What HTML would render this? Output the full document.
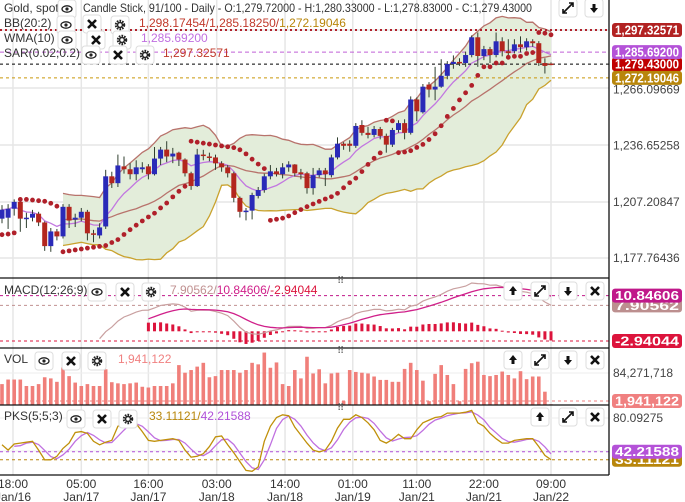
<!DOCTYPE html>
<html><head><meta charset="utf-8">
<style>
html,body{margin:0;padding:0;background:#fff;}
svg{display:block;font-family:"Liberation Sans",sans-serif;}
</style></head>
<body>
<svg id="chart" width="685" height="502" viewBox="0 0 685 502" xmlns="http://www.w3.org/2000/svg">
<defs>
<clipPath id="cMain"><rect x="0" y="0" width="609" height="278"/></clipPath>
<clipPath id="cMacd"><rect x="0" y="278" width="609" height="70"/></clipPath>
<clipPath id="cVol"><rect x="0" y="348" width="609" height="57"/></clipPath>
<clipPath id="cPks"><rect x="0" y="405" width="609" height="70"/></clipPath>
</defs>
<g id="grid"></g>
<g id="main" clip-path="url(#cMain)"></g>
<g id="macd" clip-path="url(#cMacd)"></g>
<g id="vol" clip-path="url(#cVol)"></g>
<g id="pks" clip-path="url(#cPks)"></g>
<g id="frame"></g>
<g id="axis"></g>
<g id="ui"></g>
</svg>
<script>
const opens=[1198.4,1198.9,1203.6,1207.2,1198.7,1198.9,1201.0,1196.4,1184.0,1191.7,1189.1,1204.6,1197.9,1198.9,1202.0,1190.7,1189.6,1194.3,1220.6,1217.0,1225.8,1224.3,1221.7,1224.3,1225.8,1221.7,1229.9,1234.6,1231.0,1233.0,1229.4,1222.2,1215.5,1232.0,1231.0,1230.5,1227.4,1225.3,1222.2,1209.3,1202.0,1202.6,1210.3,1213.4,1220.6,1223.2,1221.7,1225.3,1226.8,1222.7,1222.2,1214.4,1221.2,1223.7,1221.2,1230.5,1237.7,1237.7,1236.6,1247.5,1243.4,1242.3,1245.4,1241.8,1237.2,1244.9,1248.5,1243.4,1260.9,1254.2,1268.7,1266.1,1267.6,1273.3,1279.5,1280.6,1280.0,1284.2,1293.5,1283.7,1287.3,1284.2,1291.4,1286.2,1286.2,1289.8,1288.3,1291.4,1290.4,1280.0,1279.72];
const closes=[1203.1,1203.6,1207.2,1198.4,1198.9,1201.0,1196.4,1184.0,1191.7,1189.1,1204.6,1197.4,1198.9,1202.0,1190.7,1190.2,1193.8,1220.6,1217.0,1226.3,1224.3,1221.7,1225.3,1225.3,1221.7,1229.9,1234.6,1231.0,1232.5,1229.4,1222.2,1215.5,1232.0,1231.5,1230.5,1227.4,1225.3,1222.2,1209.3,1202.0,1202.6,1210.8,1213.4,1220.6,1223.2,1221.7,1225.3,1226.8,1222.2,1221.7,1214.4,1221.2,1223.7,1221.7,1230.5,1237.7,1236.6,1236.6,1247.0,1243.4,1242.3,1245.4,1241.8,1237.2,1244.9,1248.5,1243.4,1260.9,1254.7,1267.6,1266.1,1267.6,1273.3,1279.5,1280.6,1280.0,1284.2,1293.5,1283.7,1287.3,1284.2,1291.4,1286.2,1285.2,1289.8,1288.3,1291.4,1290.4,1280.0,1278.5,1279.43];
const highs=[1205.5,1206.0,1208.5,1208.0,1201.5,1203.0,1202.0,1197.0,1193.5,1193.0,1206.0,1206.0,1201.0,1204.0,1203.0,1192.5,1196.0,1224.0,1223.0,1232.0,1231.0,1227.5,1229.0,1228.0,1227.0,1236.0,1236.0,1239.0,1235.5,1233.5,1230.0,1223.0,1235.0,1234.5,1233.0,1232.0,1228.5,1226.5,1223.0,1210.0,1204.0,1212.0,1215.0,1222.0,1226.5,1225.0,1227.5,1228.5,1227.0,1224.5,1223.0,1225.0,1225.0,1225.0,1232.0,1241.0,1238.5,1239.5,1248.5,1250.0,1246.5,1247.0,1246.5,1243.0,1246.0,1250.0,1250.5,1262.5,1262.0,1269.0,1270.0,1278.0,1282.0,1281.0,1284.0,1282.5,1286.0,1294.5,1296.0,1289.0,1288.5,1296.0,1293.5,1292.5,1292.5,1294.0,1293.0,1292.5,1291.5,1282.5,1280.33];
const lows=[1196.0,1193.0,1200.0,1191.5,1193.5,1197.0,1194.5,1181.5,1181.0,1187.0,1188.0,1193.5,1194.0,1197.0,1187.0,1186.0,1188.0,1193.0,1214.5,1215.0,1222.0,1219.0,1218.5,1222.5,1219.0,1221.0,1226.5,1228.0,1227.5,1226.0,1220.5,1213.5,1215.0,1229.0,1228.5,1224.0,1223.0,1220.0,1207.0,1199.0,1197.5,1198.0,1209.0,1212.0,1219.0,1220.5,1219.5,1223.0,1220.5,1219.0,1211.5,1211.0,1220.0,1215.5,1220.0,1229.5,1234.5,1233.5,1235.5,1242.0,1240.5,1241.0,1240.0,1233.0,1236.0,1243.5,1240.0,1242.5,1249.5,1253.5,1262.0,1260.5,1267.0,1271.5,1277.0,1278.5,1278.0,1283.0,1278.0,1281.5,1280.0,1283.0,1283.5,1283.5,1285.0,1285.5,1286.5,1288.5,1278.5,1274.5,1278.83];
const volumesM=[55,67,67,67,50,50,55,73,70,61,99,76,59,50,55,50,50,94,60,57,55,57,59,48,46,50,50,50,57,105,85,92,101,111,73,76,92,92,92,85,92,111,107,138,98,112,55,50,92,70,127,83,94,57,83,85,10,92,87,85,83,75,66,66,61,61,95,111,92,64,10,82,105,79,55,10,95,110,114,79,76,79,88,79,70,89,68,75,75,35,1.941122];
const pksK=[50,44,51,52,53,54,44,33,33,37,46,52,64,65,63,54,50,53,55,71,74,74,74,65,55,54,55,56,57,55,44,36,37,40,48,59,60,50,41,31,21,20,25,54,71,81,84,83,70,61,52,44,42,44,54,69,79,79,84,81,75,67,55,52,56,62,57,57,67,75,78,81,82,86,86,86,87,89,75,71,63,57,52,52,55,56,57,57,48,38,33.11];
const timeTicks=["18:00","05:00","16:00","03:00","14:00","01:00","11:00","22:00","09:00"];
const dateTicks=["Jan/16","Jan/17","Jan/17","Jan/18","Jan/18","Jan/19","Jan/21","Jan/21","Jan/22"];
const timeTickIdx=[1.8,13,24,35.2,46.4,57.5,68,79,90];
const priceTicks=[1266.09669,1236.65258,1207.20847,1177.76436];
const lastVals={sar:1297.32571,wma:1285.69200,close:1279.43000,bbLow:1272.19046,macd:7.90562,signal:10.84606,hist:-2.94044,vol:1941122,k:33.11121,d:42.21588};

const NS="http://www.w3.org/2000/svg";
function mk(parent,tag,attrs,text){const e=document.createElementNS(NS,tag);for(const k in attrs)e.setAttribute(k,attrs[k]);if(text!==undefined)e.textContent=text;parent.appendChild(e);return e;}
const xI=i=>2+6.1*i;
const yP=p=>258-(p-1177.76436)*1.907;
const yM=v=>331.3-v*3.285;
const yV=v=>405-v*0.38;
const yK=v=>451.7+(42.216-v)*0.882;
const N=closes.length;
const G=id=>document.getElementById(id);

const grid=G('grid');
timeTickIdx.forEach((t,k)=>{const l=mk(grid,'line',{x1:xI(t),x2:xI(t),y1:0,y2:475,stroke:'#e6e6e6','stroke-width':1.5});

});
[30,88,145,202,258].forEach(y=>{const l=mk(grid,'line',{x1:0,x2:609,y1:y,y2:y,stroke:'#e6e6e6','stroke-width':1.5});

});
[373,418,451].forEach(y=>{const l=mk(grid,'line',{x1:0,x2:609,y1:y,y2:y,stroke:'#eeeeee'});

});

const bbU=[],bbM=[],bbL=[];
for(let i=0;i<N;i++){const s=Math.max(0,i-19);const w=closes.slice(s,i+1);const m=w.reduce((a,b)=>a+b,0)/w.length;const sd=Math.sqrt(w.reduce((a,b)=>a+(b-m)*(b-m),0)/w.length);bbM.push(m);bbU.push(m+2*sd);bbL.push(m-2*sd);}
const wma=[];
for(let i=0;i<N;i++){let sw=0,sv=0;for(let j=0;j<10&&i-j>=0;j++){const w=10-j;sw+=w;sv+=w*closes[i-j];}wma.push(sv/sw);}
const sar=[];
(function(){let up=true,s=lows[0]-6,ep=highs[0],af=0.02;sar.push(s);
for(let i=1;i<N;i++){s=s+af*(ep-s);
if(up){s=Math.min(s,lows[i-1],i>1?lows[i-2]:lows[i-1]);if(lows[i]<s){up=false;s=ep;ep=lows[i];af=0.02;}else if(highs[i]>ep){ep=highs[i];af=Math.min(af+0.02,0.2);}}
else{s=Math.max(s,highs[i-1],i>1?highs[i-2]:highs[i-1]);if(highs[i]>s){up=true;s=ep;ep=highs[i];af=0.02;}else if(lows[i]<ep){ep=lows[i];af=Math.min(af+0.02,0.2);}}
sar.push(s);}})();

const main=G('main');
const B0=10;
let dArea='';for(let i=B0;i<N;i++)dArea+=(i==B0?'M':'L')+xI(i)+','+yP(bbU[i]);for(let i=N-1;i>=B0;i--)dArea+='L'+xI(i)+','+yP(bbL[i]);dArea+='Z';
const ba=mk(main,'path',{d:dArea,fill:'#e3edda'});


function pline(g,arr,from,yf,color,w,name){let d='';for(let i=from;i<arr.length;i++)d+=(i==from?'M':'L')+xI(i).toFixed(1)+','+yf(arr[i]).toFixed(1);const p=mk(g,'path',{d:d,fill:'none',stroke:color,'stroke-width':w});

return p;}
pline(main,bbU,B0,yP,'#b8736c',1.3,'bb-upper-line');
pline(main,bbM,B0,yP,'#b8736c',1.3,'bb-middle-line');
pline(main,bbL,B0,yP,'#c9a22e',1.3,'bb-lower-line');
pline(main,wma,0,yP,'#c277e0',1.3,'wma-line');
[[lastVals.sar,'#b0202a','2,3',2],[lastVals.wma,'#c060d8','4,3',1],[lastVals.close,'#000','3,3',1],[lastVals.bbLow,'#c9960a','3,3',1]].forEach(a=>{const l=mk(main,'line',{x1:0,x2:609,y1:yP(a[0]),y2:yP(a[0]),stroke:a[1],'stroke-dasharray':a[2],'stroke-width':a[3]});

});
for(let i=0;i<N;i++){const up=closes[i]>=opens[i];const c=up?'#2a2ab8':'#b3261e';const x=xI(i);
const w=mk(main,'line',{x1:x,x2:x,y1:yP(highs[i]),y2:yP(lows[i]),stroke:'#2f3f2f','stroke-width':1});


const t=yP(Math.max(opens[i],closes[i])),b=yP(Math.min(opens[i],closes[i]));
const r=mk(main,'rect',{x:x-2.5,y:t,width:5,height:Math.max(1.5,b-t),fill:c});

}
for(let i=0;i<N;i++){const c=mk(main,'circle',{cx:xI(i),cy:yP(sar[i]),r:2.4,fill:'#b0202a'});

}

const ema=(arr,n,start)=>{const k=2/(n+1);const out=[];let e=arr[start];for(let i=0;i<arr.length;i++){if(i<start){out.push(null);continue;}e=(i==start)?arr[i]:arr[i]*k+e*(1-k);out.push(e);}return out;};
const e12=ema(closes,12,0),e26=ema(closes,26,0);
const macdL=closes.map((c,i)=>e12[i]-e26[i]);
const sigL=ema(macdL,9,16);
const macdG=G('macd');
const zl=mk(macdG,'line',{x1:0,x2:609,y1:yM(lastVals.hist),y2:yM(lastVals.hist),stroke:'#dc143c','stroke-dasharray':'3,3'});


const sl=mk(macdG,'line',{x1:0,x2:609,y1:yM(lastVals.signal),y2:yM(lastVals.signal),stroke:'#c0188a','stroke-dasharray':'3,3'});


const ml=mk(macdG,'line',{x1:0,x2:609,y1:yM(lastVals.macd),y2:yM(lastVals.macd),stroke:'#c09090','stroke-dasharray':'3,3'});


for(let i=24;i<N;i++){const h=macdL[i]-sigL[i];const y0=yM(0),y1=yM(h);
const r=mk(macdG,'rect',{x:xI(i)-1.5,y:Math.min(y0,y1),width:3,height:Math.max(1,Math.abs(y1-y0)),fill:'#dc143c'});

}
pline(macdG,macdL,16,yM,'#c9a0a0',1.2,'macd-line');
pline(macdG,sigL,24,yM,'#d0208a',1.3,'signal-line');

const volG=G('vol');
const vl=mk(volG,'line',{x1:0,x2:609,y1:401,y2:401,stroke:'#f08080','stroke-dasharray':'3,3'});


for(let i=0;i<N;i++){const y=yV(volumesM[i]);const r=mk(volG,'rect',{x:xI(i)-1.8,y:y,width:3.6,height:405-y,fill:'#f07f7a'});

}

const pksD=pksK.map((v,i)=>i<2?null:(pksK[i]+pksK[i-1]+pksK[i-2])/3);
const pg=G('pks');
const kl=mk(pg,'line',{x1:0,x2:609,y1:yK(lastVals.k),y2:yK(lastVals.k),stroke:'#b8860b','stroke-dasharray':'3,3'});


const dl=mk(pg,'line',{x1:0,x2:609,y1:yK(lastVals.d),y2:yK(lastVals.d),stroke:'#b050d8','stroke-dasharray':'3,3'});


pline(pg,pksD,2,yK,'#c070e0',1.3,'pks-d-line');
pline(pg,pksK,0,yK,'#c0900a',1.3,'pks-k-line');

const fr=G('frame');
[[0,278,609,278],[0,348,609,348],[0,405,609,405],[0,475,609,475],[609,0,609,475]].forEach(a=>{const l=mk(fr,'line',{x1:a[0],y1:a[1],x2:a[2],y2:a[3],stroke:'#111','stroke-width':1.3});

});
[275,345,402].forEach(y=>{const t=mk(fr,'text',{x:337,y:y+9,'font-size':10,fill:'#777'},'⠿');

});
timeTicks.forEach((t,k)=>{const x=xI(timeTickIdx[k]);
const a=mk(fr,'text',{x:x,y:488,'font-size':12,fill:'#333','text-anchor':'middle'},t);


const b=mk(fr,'text',{x:x,y:501,'font-size':12,fill:'#333','text-anchor':'middle'},dateTicks[k]);

});

const ax=G('axis');
const fmt=(v,d)=>v.toLocaleString('en-US',{minimumFractionDigits:d,maximumFractionDigits:d});
priceTicks.forEach(p=>{const t=mk(ax,'text',{x:613,y:yP(p)+4,'font-size':12,fill:'#444'},fmt(p,5));

});
function badge(y,txt,bg,name){const g=mk(ax,'g',{});


mk(g,'rect',{x:612,y:y-7,width:70,height:14,rx:3,fill:bg});
mk(g,'text',{x:615,y:y+4.5,'font-size':12.5,'font-weight':'bold',fill:'#fff',textLength:64,lengthAdjust:'spacingAndGlyphs'},txt);}
badge(yP(lastVals.close),fmt(lastVals.close,5),'#c00000','close-price-badge');
badge(yP(lastVals.sar),fmt(lastVals.sar,5),'#b22222','sar-value-badge');
badge(yP(lastVals.wma),fmt(lastVals.wma,5),'#b452d8','wma-value-badge');
badge(yP(lastVals.bbLow),fmt(lastVals.bbLow,5),'#b8860b','bb-lower-badge');
badge(yM(lastVals.macd),fmt(lastVals.macd,5),'#bc8f8f','macd-value-badge');
badge(yM(lastVals.signal),fmt(lastVals.signal,5),'#c0188a','signal-value-badge');
badge(yM(lastVals.hist),fmt(lastVals.hist,5),'#dc143c','hist-value-badge');
const vt=mk(ax,'text',{x:613,y:377,'font-size':12,fill:'#444'},'84,271,718');


badge(401,fmt(lastVals.vol,0),'#f08080','volume-value-badge');
const kt=mk(ax,'text',{x:613,y:422,'font-size':12,fill:'#444'},'80.09275');


badge(yK(lastVals.k),fmt(lastVals.k,5),'#b8860b','pks-k-badge');
badge(yK(lastVals.d),fmt(lastVals.d,5),'#b452d8','pks-d-badge');

const ui=G('ui');
function btn(x,y,kind,name){const g=mk(ui,'g',{});


mk(g,'rect',{x:x-9,y:y-9,width:18,height:18,rx:3,fill:'#fff',stroke:'#ddd'});
if(kind==='eye'){mk(g,'ellipse',{cx:x,cy:y,rx:5,ry:3.2,fill:'none',stroke:'#222','stroke-width':1.3});mk(g,'circle',{cx:x,cy:y,r:1.6,fill:'#222'});}
else if(kind==='x'){mk(g,'path',{d:`M${x-4},${y-4}L${x+4},${y+4}M${x+4},${y-4}L${x-4},${y+4}`,stroke:'#111','stroke-width':2.6});}
else if(kind==='gear'){mk(g,'circle',{cx:x,cy:y,r:4,fill:'none',stroke:'#222','stroke-width':2.5,'stroke-dasharray':'1.6,1'});mk(g,'circle',{cx:x,cy:y,r:2.4,fill:'none',stroke:'#222','stroke-width':1.4});}
else if(kind==='up'){mk(g,'path',{d:`M${x},${y-5}L${x+4},${y}L${x+1.5},${y}L${x+1.5},${y+4}L${x-1.5},${y+4}L${x-1.5},${y}L${x-4},${y}Z`,fill:'#111'});}
else if(kind==='down'){mk(g,'path',{d:`M${x},${y+5}L${x+4},${y}L${x+1.5},${y}L${x+1.5},${y-4}L${x-1.5},${y-4}L${x-1.5},${y}L${x-4},${y}Z`,fill:'#111'});}
else if(kind==='exp'){mk(g,'path',{d:`M${x-5},${y+5}L${x+5},${y-5}M${x+1},${y-5}L${x+5},${y-5}L${x+5},${y-1}M${x-5},${y+1}L${x-5},${y+5}L${x-1},${y+5}`,stroke:'#111','stroke-width':1.6,fill:'none'});}
return g;}
function txt(x,y,s,c,name,size){const t=mk(ui,'text',{x:x,y:y,'font-size':size||12,fill:c},s);

return t;}
txt(4,12,'Gold, spot','#333','symbol-label');
btn(67,9,'eye','symbol-visibility-button');
const hdr=txt(83,12,'Candle Stick, 91/100 - Daily - O:1,279.72000 - H:1,280.33000 - L:1,278.83000 - C:1,279.43000','#333','ohlc-header');
hdr.setAttribute('textLength','449');
hdr.setAttribute('lengthAdjust','spacingAndGlyphs');
btn(568,8,'exp','maximize-button');
btn(594,8,'down','move-down-button');
txt(4,27,'BB(20:2)','#333','bb-legend');
btn(66,25,'eye','bb-visibility-button');btn(92,24,'x','bb-remove-button');btn(120,25,'gear','bb-settings-button');
const bbT=txt(139,27,'','#b22222','bb-values');
mk(bbT,'tspan',{fill:'#c0392b'},'1,298.17454/1,285.18250/');mk(bbT,'tspan',{fill:'#b8860b'},'1,272.19046');
txt(4,42,'WMA(10)','#333','wma-legend');
btn(67,40,'eye','wma-visibility-button');btn(96,40,'x','wma-remove-button');btn(122,40,'gear','wma-settings-button');
txt(141,42,'1,285.69200','#c070e0','wma-value');
txt(4,57,'SAR(0.02;0.2)','#333','sar-legend');
btn(91,55,'eye','sar-visibility-button');btn(118,55,'x','sar-remove-button');btn(145,55,'gear','sar-settings-button');
txt(163,57,'1,297.32571','#c0392b','sar-value');
txt(4,294,'MACD(12;26;9)','#333','macd-legend');
btn(97,292,'eye','macd-visibility-button');btn(125,292,'x','macd-remove-button');btn(151,292,'gear','macd-settings-button');
const mT=txt(170,294,'','#333','macd-values');
mk(mT,'tspan',{fill:'#c09090'},'7.90562/');mk(mT,'tspan',{fill:'#d0208a'},'10.84606/');mk(mT,'tspan',{fill:'#dc143c'},'-2.94044');
btn(513,291,'up','macd-move-up-button');btn(540,291,'exp','macd-maximize-button');btn(568,291,'down','macd-move-down-button');btn(595,291,'x','macd-close-button');
txt(4,363,'VOL','#333','volume-legend');
btn(44,361,'eye','volume-visibility-button');btn(71,361,'x','volume-remove-button');btn(97,361,'gear','volume-settings-button');
txt(118,363,'1,941,122','#f08080','volume-value');
btn(513,360,'up','volume-move-up-button');btn(540,360,'exp','volume-maximize-button');btn(568,360,'down','volume-move-down-button');btn(595,360,'x','volume-close-button');
txt(4,420,'PKS(5;5;3)','#333','pks-legend');
btn(76,419,'eye','pks-visibility-button');btn(102,419,'x','pks-remove-button');btn(128,419,'gear','pks-settings-button');
const pT=txt(149,420,'','#333','pks-values');
mk(pT,'tspan',{fill:'#b8860b'},'33.11121/');mk(pT,'tspan',{fill:'#b050d8'},'42.21588');
btn(540,417,'up','pks-move-up-button');btn(568,417,'exp','pks-maximize-button');btn(595,417,'x','pks-close-button');
</script>
</body></html>
